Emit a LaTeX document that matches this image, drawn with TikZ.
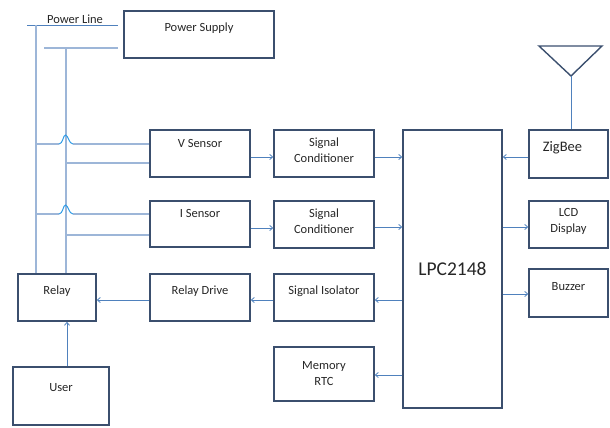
\documentclass[tikz,border=0pt]{standalone}
\usepackage{fontspec}
\setmainfont{Carlito}
\usetikzlibrary{arrows.meta}
\definecolor{boxcol}{HTML}{3B4F6E}
\definecolor{wirecol}{HTML}{9DB6D8}
\definecolor{arrcol}{HTML}{4F81BD}
\definecolor{hopcol}{HTML}{2E9BE6}
\tikzset{
  blk/.style={draw=boxcol, line width=1.4pt, inner sep=0pt, minimum width=100pt, minimum height=47pt},
  btxt/.style={anchor=center, align=center, inner sep=0pt, text=black!85,
    font=\fontsize{12.5}{16}\selectfont},
  wire/.style={draw=wirecol, line width=1.1pt},
  arr/.style={draw=arrcol, line width=0.8pt, -{Straight Barb[length=3pt,width=5pt]}},
  hop/.style={draw=hopcol, line width=1pt}
}
\begin{document}
\begin{tikzpicture}[x=1pt,y=-1pt]
  \useasboundingbox (0,0) rectangle (610,428);
  \node[blk, minimum width=150pt, label={[btxt,yshift=-18pt]north:Power Supply}] (ps) at (199,34.5) {};
  \node[blk, label={[btxt,yshift=-14pt]north:V Sensor}] (vs) at (200,153.5) {};
  \node[blk, minimum height=46pt, label={[btxt,yshift=-13pt]north:I Sensor}] (is) at (200,224) {};
  \node[blk, minimum width=78pt, label={[btxt,yshift=-18pt]north:Relay}] (relay) at (57,297.5) {};
  \node[blk, label={[btxt,yshift=-18pt]north:Relay Drive}] (rd) at (200,297.5) {};
  \node[blk, minimum width=96pt, minimum height=58pt, label={[btxt,yshift=-21pt]north:User}] (user) at (61,396) {};
  \node[blk, label={[btxt,yshift=-21pt]north:Signal\\Conditioner}] (sc1) at (324,153.5) {};
  \node[blk, label={[btxt,yshift=-21pt]north:Signal\\Conditioner}] (sc2) at (324,224.5) {};
  \node[blk, label={[btxt,yshift=-18pt]north:Signal Isolator}] (iso) at (324,297.5) {};
  \node[blk, minimum height=54pt, label={[btxt,yshift=-27pt]north:Memory\\RTC}] (mem) at (324,374) {};
  \node[blk, minimum width=99pt, minimum height=278pt, font=\fontsize{19.5}{22}\selectfont, text=black!85] (lpc) at (452.5,269) {LPC2148};
  \node[blk, minimum width=79pt, minimum height=48pt, label={[btxt,yshift=-18pt,xshift=-6pt,font=\fontsize{14.5}{16}\selectfont]north:ZigBee}] (zig) at (568.5,154) {};
  \node[blk, minimum width=79pt, label={[btxt,yshift=-21pt]north:LCD\\Display}] (lcd) at (568.5,224.5) {};
  \node[blk, minimum width=79pt, minimum height=48pt, label={[btxt,yshift=-18pt]north:Buzzer}] (buz) at (568.5,293) {};

  % antenna
  \coordinate (ant) at (571,76);
  \draw[boxcol, line width=1.4pt, line join=miter] (539,46) -- (602,46) -- (ant) -- cycle;
  \draw[draw=arrcol, line width=0.8pt] (ant) -- (ant |- zig.north);

  % power line
  \coordinate (pl1a) at (27,25);
  \coordinate (pl1b) at (118,25);
  \coordinate (pl2a) at (44,48);
  \coordinate (pl2b) at (118,48);
  \coordinate (v1) at (36,25);
  \coordinate (v2) at (66,48);
  \node[btxt, anchor=south] (pltxt) at (75,24) {Power Line};
  \draw[draw=arrcol, line width=0.8pt] (pl1a) -- (pl1b);
  \draw[wire] (pl2a) -- (pl2b);
  \draw[wire] (v1) -- (v1 |- relay.north);
  \draw[wire] (v2) -- (v2 |- relay.north);

  % sensor taps
  \draw[wire] ([yshift=9.5pt]vs.west -| v1) -- (59,144);
  \draw[hop] (59,144) .. controls (63,144) and (63,135) .. (65.5,135) .. controls (68,135) and (69,144) .. (73,144);
  \draw[wire] (73,144) -- ([yshift=9.5pt]vs.west);
  \draw[wire] ([yshift=-9.5pt]vs.west -| v2) -- ([yshift=-9.5pt]vs.west);
  \draw[wire] ([yshift=10pt]is.west -| v1) -- (59,214);
  \draw[hop] (59,214) .. controls (63,214) and (63,205) .. (65.5,205) .. controls (68,205) and (69,214) .. (73,214);
  \draw[wire] (73,214) -- ([yshift=10pt]is.west);
  \draw[wire] ([yshift=-11pt]is.west -| v2) -- ([yshift=-11pt]is.west);

  % signal flow
  \draw[arr] ([yshift=-3.5pt]vs.east) -- ([yshift=-3.5pt]sc1.west);
  \draw[arr] ([yshift=-3.5pt]sc1.east) -- ([yshift=-3.5pt]sc1.east -| lpc.west);
  \draw[arr] ([yshift=-4pt]is.east) -- ([yshift=-4pt]is.east -| sc2.west);
  \draw[arr] ([yshift=-2.5pt]sc2.east) -- ([yshift=-2.5pt]sc2.east -| lpc.west);
  \draw[arr] ([yshift=-2.5pt]iso.east -| lpc.west) -- ([yshift=-2.5pt]iso.east);
  \draw[arr] ([yshift=-2.5pt]iso.west) -- ([yshift=-2.5pt]rd.east);
  \draw[arr] ([yshift=-2.5pt]rd.west) -- ([yshift=-2.5pt]relay.east);
  \draw[arr] ([yshift=-1pt]mem.east -| lpc.west) -- ([yshift=-1pt]mem.east);
  \draw[arr] ([yshift=-3pt]zig.west) -- ([yshift=-3pt]zig.west -| lpc.east);
  \draw[arr] ([yshift=-2.5pt]lcd.west -| lpc.east) -- ([yshift=-2.5pt]lcd.west);
  \draw[arr] ([yshift=-1pt]buz.west -| lpc.east) -- ([yshift=-1pt]buz.west);
  \draw[arr] ([xshift=6pt]user.north) -- ([xshift=6pt]user.north |- relay.south);
\end{tikzpicture}
\end{document}
